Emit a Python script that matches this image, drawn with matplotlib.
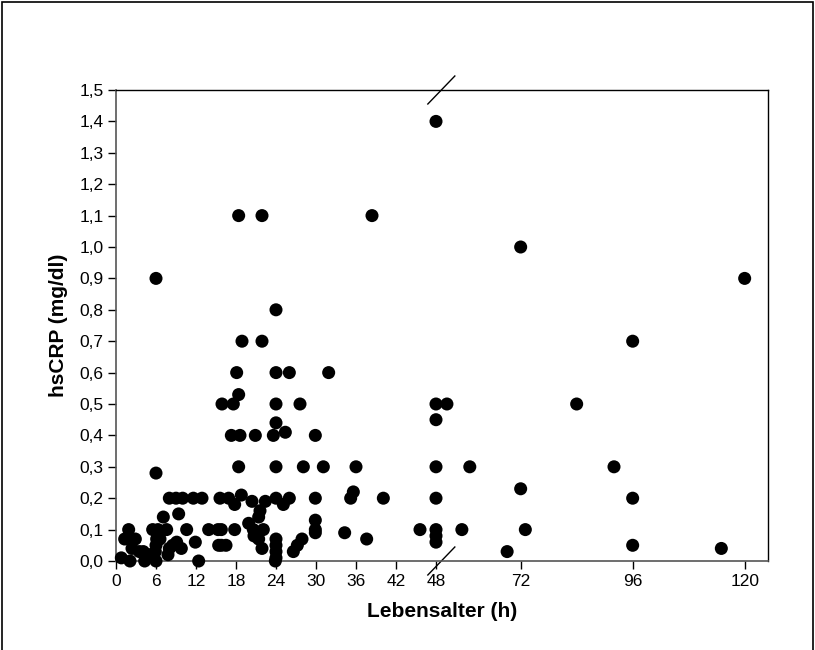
import matplotlib
matplotlib.use("Agg")
import matplotlib.pyplot as plt
import numpy as np
from matplotlib.patches import Rectangle
from matplotlib.lines import Line2D

plt.rcParams["font.family"] = ["Liberation Sans", "DejaVu Sans"]

# age in hours, hsCRP in mg/dl
age_h = [
    0.8, 1.3, 1.9, 2.1, 2.4, 2.9, 3.5, 4.1, 4.3, 5.0,
    5.5, 5.9, 6.0, 6.0, 6.1, 6.0, 6.0, 6.3, 6.6, 7.1,
    7.6, 7.8, 8.0, 8.0, 8.5, 9.0, 9.1, 9.4, 9.8, 10.0,
    10.6, 11.6, 11.9, 12.4, 12.9, 13.9, 15.3, 15.4, 15.6,
    15.8, 15.8, 16.5, 16.9, 17.8, 17.8, 18.8, 19.9, 20.4, 20.6,
    20.7, 21.4, 21.6, 21.4, 21.9, 22.1, 22.4, 24.0, 24.0, 24.0,
    24.0, 24.0, 23.9, 25.1, 26.0, 26.6, 27.2, 27.9, 29.9, 29.9,
    29.9, 29.9,
    15.9, 17.6, 17.3, 18.6, 18.1, 18.4, 18.4, 18.4, 18.9, 20.9,
    21.9, 21.9, 23.6, 24.0, 24.0, 24.0, 24.0, 24.0, 25.4, 26.0,
    27.6, 28.1, 29.9, 31.1, 31.9,
    34.3, 35.2, 35.6, 36.0, 37.6, 38.4, 40.1, 45.6,
    48, 48, 48, 48, 48, 48, 48, 48,
    56.2, 59.4, 61.1, 69.1, 72, 72, 73, 84, 92, 96, 96, 96, 115, 120,
]
crp = [
    0.01, 0.07, 0.10, 0.00, 0.04, 0.07, 0.03, 0.03, 0.00, 0.02,
    0.10, 0.03, 0.00, 0.05, 0.07, 0.28, 0.90, 0.10, 0.07, 0.14,
    0.10, 0.02, 0.04, 0.20, 0.05, 0.20, 0.06, 0.15, 0.04, 0.20,
    0.10, 0.20, 0.06, 0.00, 0.20, 0.10, 0.10, 0.05, 0.20,
    0.10, 0.05, 0.05, 0.20, 0.18, 0.10, 0.21, 0.12, 0.19, 0.10,
    0.08, 0.14, 0.16, 0.07, 0.04, 0.10, 0.19, 0.20, 0.07, 0.05,
    0.03, 0.01, 0.00, 0.18, 0.20, 0.03, 0.05, 0.07, 0.20, 0.13,
    0.10, 0.09,
    0.50, 0.50, 0.40, 0.40, 0.60, 0.53, 0.30, 1.10, 0.70, 0.40,
    1.10, 0.70, 0.40, 0.80, 0.60, 0.50, 0.44, 0.30, 0.41, 0.60,
    0.50, 0.30, 0.40, 0.30, 0.60,
    0.09, 0.20, 0.22, 0.30, 0.07, 1.10, 0.20, 0.10,
    1.40, 0.50, 0.45, 0.30, 0.20, 0.10, 0.08, 0.06,
    0.50, 0.10, 0.30, 0.03, 1.00, 0.23, 0.10, 0.50, 0.30, 0.70, 0.20, 0.05, 0.04, 0.90,
]

x_ticks = [0, 6, 12, 18, 24, 30, 36, 42, 48, 72, 96, 120]
y_ticks = [i / 10 for i in range(16)]
y_tick_labels = [f"{v:.1f}".replace(".", ",") for v in y_ticks]

# axis break: 0..B1 at full scale, B2.. compressed
B1, B2, SLOPE = 48.8, 55.0, 0.7


def fwd(h):
    h = np.asarray(h, dtype=float)
    return np.where(h <= B1, h, np.where(h < B2, B1, B1 + SLOPE * (h - B2)))


def inv(u):
    u = np.asarray(u, dtype=float)
    return np.where(u <= B1, u, B2 + (u - B1) / SLOPE)


fig = plt.figure(figsize=(8.15, 6.5), dpi=100)
ax = fig.add_axes([116 / 815, 1 - 561 / 650, 652 / 815, 471 / 650])
ax.set_xscale("function", functions=(fwd, inv))

ax.scatter(age_h, crp, s=88, color="black", edgecolors="none", zorder=3, clip_on=False)

ax.set_xlim(0, 125)
ax.set_ylim(0, 1.5)
ax.set_xticks(x_ticks)
ax.set_xticklabels([str(t) for t in x_ticks])
ax.xaxis.set_minor_locator(matplotlib.ticker.NullLocator())
ax.set_yticks(y_ticks)
ax.set_yticklabels(y_tick_labels)
ax.tick_params(direction="out", length=5.5, width=1, labelsize=12.5, colors="black")

for side in ["left", "bottom"]:
    ax.spines[side].set_color("#555555")
    ax.spines[side].set_linewidth(1.2)
for side in ["top", "right"]:
    ax.spines[side].set_color("black")
    ax.spines[side].set_linewidth(1)

ax.set_xlabel("Lebensalter (h)", fontsize=15, fontweight="bold", labelpad=10)
ax.set_ylabel("hsCRP (mg/dl)", fontsize=15, fontweight="bold", labelpad=8)

# break marks
xb = ax.transAxes.inverted().transform(ax.transData.transform((B1, 0)))[0]
dx, dy = 13.5 / 652, 14 / 471
for yy in (0, 1):
    ax.add_line(Line2D([xb - dx, xb + dx], [yy - dy, yy + dy], transform=ax.transAxes,
                       color="black", lw=1, clip_on=False))

# outer frame
fig.patches.append(Rectangle((0.002, -0.01), 0.996, 1.007, transform=fig.transFigure,
                             fill=False, edgecolor="black", lw=1.2))

fig.savefig("out.png", dpi=100)
